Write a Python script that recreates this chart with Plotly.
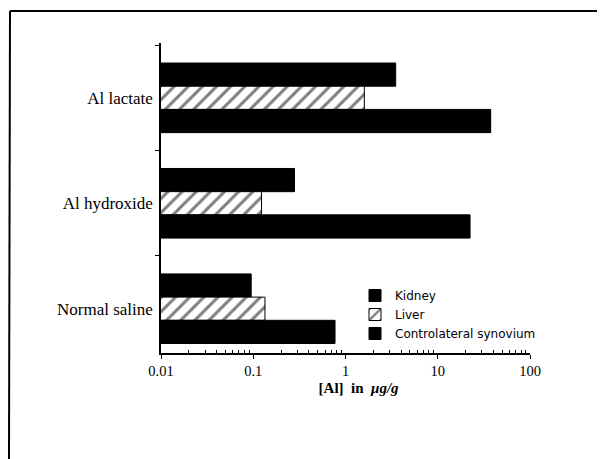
import plotly.graph_objects as go

categories = ["Al lactate", "Al hydroxide", "Normal saline"]
kidney = [3.5, 0.28, 0.095]
liver = [1.6, 0.123, 0.134]
synovium = [37.5, 22.4, 0.77]
series_names = ["Kidney", "Liver", "Controlateral synovium"]
x_tickvals = [0.01, 0.1, 1, 10, 100]
x_ticktext = ["0.01", "0.1", "1", "10", "100"]
minor_vals = [m * d for d in [0.01, 0.1, 1, 10] for m in range(2, 10)]

fig = go.Figure()
fig.add_trace(go.Bar(y=categories, x=kidney, orientation="h", name=series_names[0],
                     marker=dict(color="black", line=dict(color="black", width=1))))
fig.add_trace(go.Bar(y=categories, x=liver, orientation="h", name=series_names[1],
                     marker=dict(color="white", line=dict(color="black", width=1),
                                 pattern=dict(shape="/", fgcolor="black", bgcolor="white",
                                              size=10, solidity=0.3))))
fig.add_trace(go.Bar(y=categories, x=synovium, orientation="h", name=series_names[2],
                     marker=dict(color="black", line=dict(color="black", width=1))))

# page has an 8px body margin; compensate
OFF = 8
W, H = 605 - OFF, 459 - OFF
L, T = 161 - OFF, 43 - OFF
R = 605 - 530
B = 459 - 353
pw, ph = W - L - R, H - T - B


def px(x):  # page pixel -> paper x
    return (x - 161) / pw


def py(y):  # page pixel -> paper y
    return (353 - y) / ph


fig.update_layout(
    width=W, height=H,
    margin=dict(l=L, r=R, t=T, b=B, autoexpand=False),
    paper_bgcolor="white", plot_bgcolor="white",
    barmode="group", bargap=0.34, bargroupgap=0,
    font=dict(family="Liberation Serif", color="black"),
    showlegend=True,
    legend=dict(x=px(355), y=py(281), xanchor="left", yanchor="top",
                font=dict(family="DejaVu Sans", size=12, color="black"),
                bgcolor="rgba(0,0,0,0)", traceorder="normal"),
    xaxis=dict(type="log", range=[-2, 2], tickmode="array", tickvals=x_tickvals, ticktext=x_ticktext,
               showline=True, linecolor="black", linewidth=2, ticks="outside",
               ticklen=4, tickcolor="black", showgrid=False, zeroline=False,
               tickfont=dict(family="Liberation Serif", size=14.5),
               minor=dict(tickmode="array", tickvals=minor_vals, ticks="inside", ticklen=3,
                          tickcolor="black", showgrid=False),
               title=dict(text="&nbsp;&nbsp;&nbsp;&nbsp;&nbsp;&nbsp;&nbsp;<b>[Al]  in  <i>μg/g</i></b>",
                          font=dict(family="Liberation Serif", size=15), standoff=4)),
    yaxis=dict(type="category", categoryorder="array", categoryarray=categories,
               range=[2.42, -0.52], showline=True, linecolor="black", linewidth=1.5,
               ticks="outside", ticklen=4, tickcolor="black", tickson="boundaries",
               ticklabelstandoff=3,
               showgrid=False, zeroline=False,
               tickfont=dict(family="Liberation Serif", size=17)),
    shapes=[
        dict(type="line", xref="paper", yref="paper", x0=px(10), x1=px(605), y0=py(11), y1=py(11),
             line=dict(color="black", width=2)),
        dict(type="line", xref="paper", yref="paper", x0=px(10), x1=px(9), y0=py(11), y1=py(459),
             line=dict(color="black", width=2)),
    ],
)

fig.write_html("out.html")
